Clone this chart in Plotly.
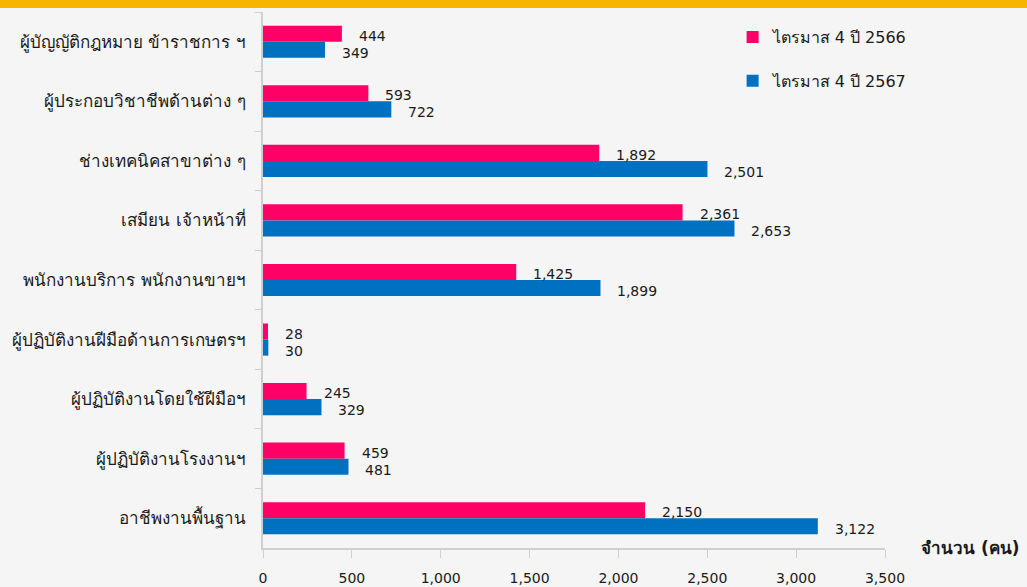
import plotly.graph_objects as go

categories = [
    "ผู้บัญญัติกฎหมาย ข้าราชการ ฯ",
    "ผู้ประกอบวิชาชีพด้านต่าง ๆ",
    "ช่างเทคนิคสาขาต่าง ๆ",
    "เสมียน เจ้าหน้าที่",
    "พนักงานบริการ พนักงานขายฯ",
    "ผู้ปฏิบัติงานฝีมือด้านการเกษตรฯ",
    "ผู้ปฏิบัติงานโดยใช้ฝีมือฯ",
    "ผู้ปฏิบัติงานโรงงานฯ",
    "อาชีพงานพื้นฐาน",
]
q4_2566 = [444, 593, 1892, 2361, 1425, 28, 245, 459, 2150]
q4_2567 = [349, 722, 2501, 2653, 1899, 30, 329, 481, 3122]
series_names = ["ไตรมาส 4 ปี 2566", "ไตรมาส 4 ปี 2567"]
x_ticks = [0, 500, 1000, 1500, 2000, 2500, 3000, 3500]

PINK = "#FF0066"
BLUE = "#0070C0"
FONT = "Tahoma, 'DejaVu Sans', 'Noto Sans', sans-serif"
TXT = "#1a1a1a"

fig = go.Figure()
fig.add_trace(go.Bar(y=categories, x=q4_2566, orientation="h", name=series_names[0],
                     marker=dict(color=PINK, line=dict(width=0)), legendgroup="a"))
fig.add_trace(go.Bar(y=categories, x=q4_2567, orientation="h", name=series_names[1],
                     marker=dict(color=BLUE, line=dict(width=0)), legendgroup="b"))

annotations = []
for vals, ysh in ((q4_2566, 6), (q4_2567, -11)):
    for c, v in zip(categories, vals):
        annotations.append(dict(x=v, y=c, xref="x", yref="y", text=f"{v:,}", showarrow=False,
                                xanchor="left", yanchor="middle", xshift=15, yshift=ysh,
                                font=dict(family=FONT, size=14, color=TXT)))
annotations.append(dict(x=1.0 + (970 - 885) / 622, y=0, xref="paper", yref="paper",
                        text="<b>จำนวน (คน)</b>", showarrow=False, xanchor="center", yanchor="middle",
                        font=dict(family=FONT, size=17, color=TXT)))

fig.update_layout(
    width=1027, height=587,
    margin=dict(l=263, r=142, t=12, b=39),
    paper_bgcolor="#f5f5f5", plot_bgcolor="rgba(0,0,0,0)",
    barmode="group", bargap=0.46, bargroupgap=0,
    font=dict(family=FONT, size=14, color=TXT),
    showlegend=True,
    legend=dict(x=0.755, y=0.985, xanchor="left", yanchor="top", bgcolor="rgba(0,0,0,0)",
                tracegroupgap=20, font=dict(family=FONT, size=16, color=TXT),
                itemwidth=30),
    annotations=annotations,
    shapes=[dict(type="rect", xref="paper", yref="paper", x0=-0.5, x1=1.3,
                 y0=1 + 4 / 536, y1=1 + 20 / 536, fillcolor="#F7B500", line=dict(width=0), layer="below")],
)
fig.update_yaxes(autorange="reversed", showline=True, linecolor="#cfcfcf", linewidth=1.5,
                 ticks="outside", ticklen=6, tickcolor="#cfcfcf", tickson="boundaries",
                 showgrid=False, ticklabelstandoff=12, automargin=False,
                 tickfont=dict(family=FONT, size=17, color=TXT))
fig.update_xaxes(range=[0, 3500], tickvals=x_ticks, ticktext=[f"{t:,}" for t in x_ticks],
                 showline=True, linecolor="#cfcfcf", linewidth=1.5, ticks="outside", ticklen=8,
                 tickcolor="#cfcfcf", showgrid=False, zeroline=False, ticklabelstandoff=8,
                 automargin=False, tickfont=dict(family=FONT, size=14, color=TXT))

fig.write_html("out.html", config={"displayModeBar": False},
               post_script="document.body.style.margin='0';")
